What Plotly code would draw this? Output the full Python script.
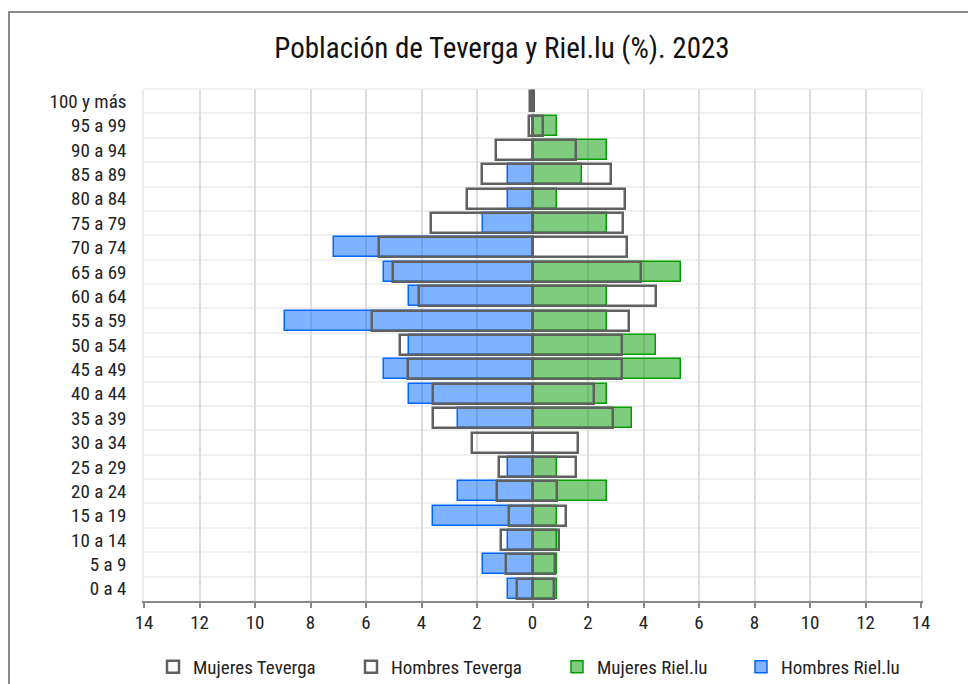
import plotly.graph_objects as go

# ---- data (ascending age groups) ----
labels = ["0 a 4", "5 a 9", "10 a 14", "15 a 19", "20 a 24", "25 a 29", "30 a 34",
          "35 a 39", "40 a 44", "45 a 49", "50 a 54", "55 a 59", "60 a 64", "65 a 69",
          "70 a 74", "75 a 79", "80 a 84", "85 a 89", "90 a 94", "95 a 99", "100 y más"]

hombres_riel = [0.89, 1.79, 0.89, 3.57, 2.68, 0.89, 0.0, 2.68, 4.46, 5.36, 4.46,
                8.93, 4.46, 5.36, 7.14, 1.79, 0.89, 0.89, 0.0, 0.0, 0.0]
mujeres_riel = [0.89, 0.89, 0.89, 0.89, 2.68, 0.89, 0.0, 3.57, 2.68, 5.36, 4.46,
                2.68, 2.68, 5.36, 0.0, 2.68, 0.89, 1.79, 2.68, 0.89, 0.0]
hombres_tev = [0.56, 0.95, 1.13, 0.83, 1.29, 1.19, 2.19, 3.59, 3.59, 4.47, 4.77,
               5.77, 4.09, 5.01, 5.53, 3.65, 2.37, 1.83, 1.32, 0.12, 0.10]
mujeres_tev = [0.76, 0.82, 0.94, 1.20, 0.88, 1.57, 1.63, 2.90, 2.22, 3.22, 3.22,
               3.46, 4.46, 3.91, 3.40, 3.26, 3.34, 2.84, 1.57, 0.37, 0.06]

x_ticks = list(range(-14, 15, 2))
x_ticktext = [str(abs(v)) for v in x_ticks]

FONT = "Roboto Condensed, Liberation Sans Narrow, Roboto, sans-serif"
OFF = 8                      # page body margin
W, H = 976, 684              # figure slightly overflows the window; right/bottom hidden
L, T = 144 - OFF, 89 - OFF
R = W - (921 - OFF)
B = H - (601 - OFF)
PW, PH = W - L - R, H - T - B

def px_x(p):
    return (p - OFF - L) / PW

def px_y(p):
    return (H - B - (p - OFF)) / PH

ypos = list(range(len(labels)))
bw = 0.82

fig = go.Figure()
fig.add_trace(go.Bar(
    y=ypos, x=mujeres_riel, orientation="h", width=bw, name="Mujeres Riel.lu",
    marker=dict(color="rgba(0,153,0,0.5)", line=dict(color="rgb(0,158,0)", width=1.5)),
    legend="legend3", legendrank=3))
fig.add_trace(go.Bar(
    y=ypos, x=[-v for v in hombres_riel], orientation="h", width=bw, name="Hombres Riel.lu",
    marker=dict(color="rgba(0,102,255,0.5)", line=dict(color="rgb(0,102,255)", width=1.5)),
    legend="legend4", legendrank=4))
fig.add_trace(go.Bar(
    y=ypos, x=mujeres_tev, orientation="h", width=bw, name="Mujeres Teverga",
    marker=dict(color="rgba(255,255,255,0)", line=dict(color="#606060", width=2.5)),
    legend="legend", legendrank=1))
fig.add_trace(go.Bar(
    y=ypos, x=[-v for v in hombres_tev], orientation="h", width=bw, name="Hombres Teverga",
    marker=dict(color="rgba(255,255,255,0)", line=dict(color="#606060", width=2.5)),
    legend="legend2", legendrank=2))

leg_common = dict(orientation="h", xref="container", yref="container",
                  yanchor="middle", y=1 - (667 - OFF) / H, xanchor="left",
                  font=dict(family=FONT, size=19, color="#222"),
                  bgcolor="rgba(0,0,0,0)", borderwidth=0)

def leg_x(text_start):
    return (text_start - OFF - 44) / W

fig.update_layout(
    width=W, height=H,
    margin=dict(l=L, r=R, t=T, b=B, autoexpand=False),
    paper_bgcolor="white", plot_bgcolor="white",
    barmode="overlay", bargap=0,
    font=dict(family=FONT, size=19, color="#222"),
    title=dict(text="Población de Teverga y Riel.lu (%). 2023",
               x=(502 - OFF) / W, xanchor="center", y=1 - (48 - OFF) / H, yanchor="middle",
               font=dict(family=FONT, size=29, color="#111")),
    xaxis=dict(range=[-14, 14], tickvals=x_ticks, ticktext=x_ticktext, automargin=False,
               showgrid=True, gridcolor="#dcdcdc", gridwidth=1.5,
               zeroline=False, showline=True, linecolor="#888", linewidth=2,
               ticks="outside", ticklen=5, tickcolor="#888", tickwidth=2,
               ticklabelstandoff=-2,
               tickfont=dict(family=FONT, size=19, color="#222")),
    yaxis=dict(range=[-0.5, len(labels) - 0.5], tickvals=ypos, ticktext=labels,
               automargin=False,
               showgrid=False, zeroline=False, ticks="", ticklabelstandoff=12,
               showline=True, linecolor="#ececec", linewidth=1.5, mirror=True,
               minor=dict(tickvals=[i - 0.5 for i in range(len(labels) + 1)],
                          showgrid=True, gridcolor="#f0f0f0", gridwidth=1.5, ticks=""),
               tickfont=dict(family=FONT, size=19, color="#222")),
    legend=dict(leg_common, x=leg_x(197)),
    legend2=dict(leg_common, x=leg_x(395)),
    legend3=dict(leg_common, x=leg_x(601)),
    legend4=dict(leg_common, x=leg_x(785)),
    showlegend=True,
    shapes=[
        dict(type="line", xref="paper", yref="paper", x0=px_x(9), x1=px_x(9),
             y0=px_y(700), y1=px_y(12), line=dict(color="#8a8a8a", width=2)),
        dict(type="line", xref="paper", yref="paper", x0=px_x(8), x1=px_x(1000),
             y0=px_y(12), y1=px_y(12), line=dict(color="#8a8a8a", width=2)),
        dict(type="line", xref="paper", yref="paper", x0=0, x1=1,
             y0=1, y1=1, line=dict(color="#ececec", width=1.5), layer="below"),
    ],
)

fig.write_html("out.html")
